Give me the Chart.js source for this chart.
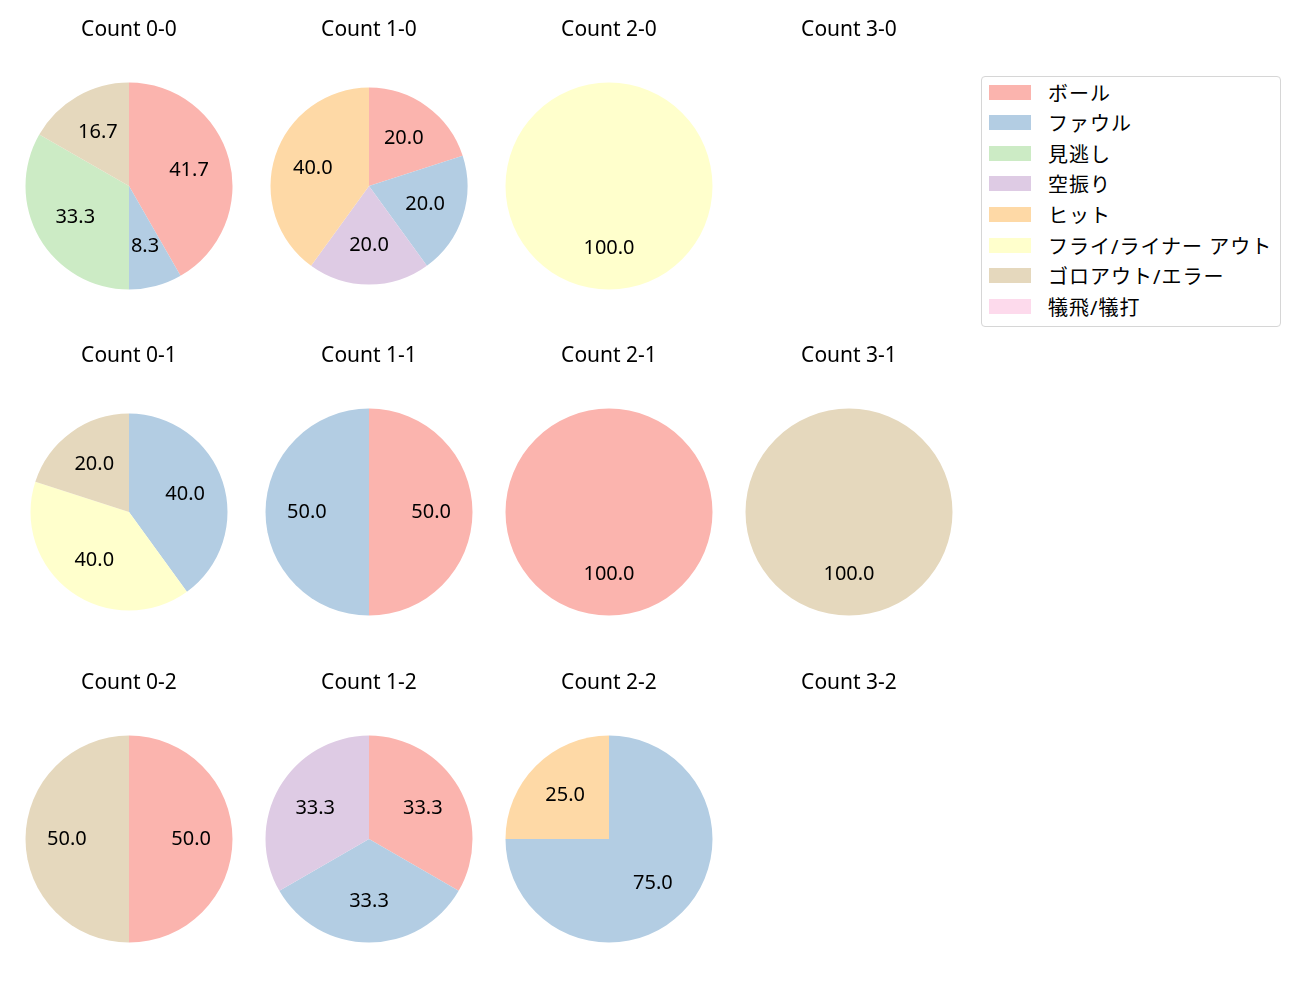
<!DOCTYPE html>
<html>
<head>
<meta charset="utf-8">
<script src="https://cdn.jsdelivr.net/npm/chart.js@4.4.0/dist/chart.umd.min.js"></script>
<style>
  body { margin: 0; background: #fff; width: 1300px; height: 1000px; position: relative; overflow: hidden;
         font-family: "Noto Sans", "Noto Sans CJK JP", sans-serif; }
  .cell { position: absolute; width: 240px; height: 326px; }
  #legend { position: absolute; left: 981px; top: 76px; width: 300px; height: 251px;
            border: 1px solid #d6d6d6; border-radius: 4px; box-sizing: border-box; }
  .item { position: absolute; left: 7px; height: 24px; display: flex; align-items: center; }
  .swatch { width: 42px; height: 15px; margin-right: 17px; }
  .item span { font-size: 20px; color: #000; white-space: nowrap; letter-spacing: 1px; }
</style>
</head>
<body>
<div id="legend"></div>
<script>
const categories = ['ボール', 'ファウル', '見逃し', '空振り', 'ヒット',
  'フライ/ライナー アウト', 'ゴロアウト/エラー', '犠飛/犠打'];
const colors = ['#fbb4ae', '#b3cde3', '#ccebc5', '#decbe4', '#fed9a6',
  '#ffffcc', '#e5d8bd', '#fddaec'];

// percentages per category, same order as categories
const count00 = [41.7, 8.3, 33.3, 0, 0, 0, 16.7, 0];
const count10 = [20.0, 20.0, 0, 20.0, 40.0, 0, 0, 0];
const count20 = [0, 0, 0, 0, 0, 100.0, 0, 0];
const count30 = [];
const count01 = [0, 40.0, 0, 0, 0, 40.0, 20.0, 0];
const count11 = [50.0, 50.0, 0, 0, 0, 0, 0, 0];
const count21 = [100.0, 0, 0, 0, 0, 0, 0, 0];
const count31 = [0, 0, 0, 0, 0, 0, 100.0, 0];
const count02 = [50.0, 0, 0, 0, 0, 0, 50.0, 0];
const count12 = [33.3, 33.3, 0, 33.3, 0, 0, 0, 0];
const count22 = [0, 75.0, 0, 0, 25.0, 0, 0, 0];
const count32 = [];

const panels = [
  { title: 'Count 0-0', data: count00, row: 0, col: 0 },
  { title: 'Count 1-0', data: count10, row: 0, col: 1 },
  { title: 'Count 2-0', data: count20, row: 0, col: 2 },
  { title: 'Count 3-0', data: count30, row: 0, col: 3 },
  { title: 'Count 0-1', data: count01, row: 1, col: 0 },
  { title: 'Count 1-1', data: count11, row: 1, col: 1 },
  { title: 'Count 2-1', data: count21, row: 1, col: 2 },
  { title: 'Count 3-1', data: count31, row: 1, col: 3 },
  { title: 'Count 0-2', data: count02, row: 2, col: 0 },
  { title: 'Count 1-2', data: count12, row: 2, col: 1 },
  { title: 'Count 2-2', data: count22, row: 2, col: 2 },
  { title: 'Count 3-2', data: count32, row: 2, col: 3 }
];

// layout
const colCenters = [129, 369, 609, 849];
const rowTops = [0, 326, 653];
const smallPies = ['Count 1-0', 'Count 0-1'];

const pctLabels = {
  id: 'pctLabels',
  afterDatasetsDraw(chart) {
    const data = chart.data.datasets[0].data;
    const total = data.reduce((a, b) => a + b, 0);
    if (!total) return;
    const ctx = chart.ctx;
    ctx.save();
    ctx.font = '20px "Noto Sans", "Noto Sans CJK JP"';
    ctx.fillStyle = '#000';
    ctx.textAlign = 'center';
    ctx.textBaseline = 'middle';
    chart.getDatasetMeta(0).data.forEach((arc, i) => {
      if (!data[i]) return;
      const p = arc.getProps(['x', 'y', 'startAngle', 'endAngle', 'outerRadius'], true);
      const mid = (p.startAngle + p.endAngle) / 2;
      const r = p.outerRadius * 0.6;
      ctx.fillText((data[i] / total * 100).toFixed(1), p.x + Math.cos(mid) * r, p.y + Math.sin(mid) * r);
    });
    ctx.restore();
  }
};

panels.forEach(p => {
  const div = document.createElement('div');
  div.className = 'cell';
  div.style.left = (colCenters[p.col] - 120) + 'px';
  div.style.top = rowTops[p.row] + 'px';
  const canvas = document.createElement('canvas');
  canvas.width = 240;
  canvas.height = 326;
  div.appendChild(canvas);
  document.body.appendChild(div);

  new Chart(canvas, {
    type: 'pie',
    data: {
      labels: categories,
      datasets: [{
        data: p.data,
        backgroundColor: colors,
        borderWidth: 0,
        radius: smallPies.includes(p.title) ? 98.5 : 103.5
      }]
    },
    options: {
      responsive: false,
      animation: false,
      events: [],
      layout: { padding: 0 },
      plugins: {
        legend: { display: false },
        tooltip: { enabled: false },
        title: {
          display: true,
          text: p.title,
          color: '#000',
          font: { family: '"Noto Sans", "Noto Sans CJK JP"', size: 21, weight: 'normal', lineHeight: 1.2 },
          padding: { top: 17, bottom: 4 }
        }
      }
    },
    plugins: [pctLabels]
  });
});

const legend = document.getElementById('legend');
categories.forEach((name, i) => {
  const item = document.createElement('div');
  item.className = 'item';
  item.style.top = (3 + i * 30.6) + 'px';
  item.innerHTML = `<div class="swatch" style="background:${colors[i]}"></div><span>${name}</span>`;
  legend.appendChild(item);
});
</script>
</body>
</html>
